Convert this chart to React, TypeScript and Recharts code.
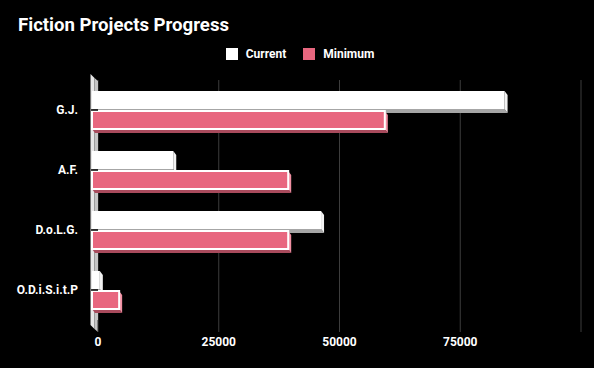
import {
  Bar,
  BarChart,
  CartesianGrid,
  Legend,
  ReferenceArea,
  XAxis,
  YAxis,
} from "recharts";

const categories = ["G.J.", "A.F.", "D.o.L.G.", "O.D.i.S.i.t.P"];
const currentValues = [84800, 16200, 46800, 1000];
const minimumValues = [60000, 40000, 40000, 5000];
const xTicks = [0, 25000, 50000, 75000, 100000];

const data = categories.map((name, i) => ({
  name,
  current: currentValues[i],
  minimum: minimumValues[i],
}));

const FONT = "Roboto, 'Noto Sans', sans-serif";

type Faces = { front: string; side: string; bottom: string; border?: string };

const WHITE: Faces = { front: "#ffffff", side: "#f2f2f2", bottom: "#a6a6a6" };
const PINK: Faces = {
  front: "#e8677f",
  side: "#f08fa2",
  bottom: "#a84a5c",
  border: "#ffffff",
};

// front face sits a bit up-left of the real bar end, depth goes right/down
const Bar3D = (props: any) => {
  const { x, y, width, height, faces } = props as {
    x: number;
    y: number;
    width: number;
    height: number;
    faces: Faces;
  };
  if (width == null || height == null) return null;
  const dx = 3;
  const dy = 4;
  const fl = x - 6;
  const fr = Math.max(x + width - dx, fl + 2);
  const top = y;
  const bot = y + height;
  return (
    <g>
      <polygon
        points={`${fl},${bot} ${fr},${bot} ${fr + dx},${bot + dy} ${fl + dx},${bot + dy}`}
        fill={faces.bottom}
      />
      <polygon
        points={`${fr},${top} ${fr + dx},${top + dy} ${fr + dx},${bot + dy} ${fr},${bot}`}
        fill={faces.side}
      />
      <rect
        x={fl}
        y={top}
        width={fr - fl}
        height={height}
        fill={faces.front}
        stroke={faces.border ?? "none"}
        strokeWidth={faces.border ? 2 : 0}
      />
    </g>
  );
};

// the grey "wall" behind the category axis
const Wall = (props: any) => {
  const { x, y, height } = props;
  const L = x - 7.5;
  const M = x - 3.5;
  const R = x;
  const top = y;
  const bot = y + height;
  return (
    <g>
      <polygon
        points={`${L},${top - 6} ${M},${top - 2} ${M},${bot + 9} ${L},${bot + 5}`}
        fill="#e6e6e6"
      />
      <polygon
        points={`${M},${top - 2} ${R},${top + 1} ${R},${bot + 12} ${M},${bot + 9}`}
        fill="#c4c4c4"
      />
    </g>
  );
};

const LegendContent = () => (
  <div
    style={{
      width: 594,
      height: 36,
      display: "flex",
      justifyContent: "center",
      alignItems: "flex-start",
      paddingTop: 4,
      paddingLeft: 6,
      boxSizing: "border-box",
      fontFamily: FONT,
      fontSize: 12,
      fontWeight: 700,
      color: "#ffffff",
    }}
  >
    {[
      { label: "Current", color: WHITE.front },
      { label: "Minimum", color: PINK.front },
    ].map((item, i) => (
      <div
        key={item.label}
        style={{
          display: "flex",
          alignItems: "center",
          marginLeft: i ? 17 : 0,
          lineHeight: "12px",
        }}
      >
        <span
          style={{
            width: 12,
            height: 12,
            background: item.color,
            marginRight: 8,
            display: "inline-block",
          }}
        />
        {item.label}
      </div>
    ))}
  </div>
);

const App = () => (
  <div
    style={{
      position: "absolute",
      left: 0,
      top: 0,
      width: 594,
      height: 368,
      background: "#000000",
      overflow: "hidden",
    }}
  >
    <div
      style={{
        position: "absolute",
        left: 18,
        top: 14,
        fontFamily: FONT,
        fontSize: 18.6,
        fontWeight: 700,
        lineHeight: "22px",
        color: "#ffffff",
      }}
    >
      Fiction Projects Progress
    </div>
    <BarChart
      width={594}
      height={368}
      data={data}
      layout="vertical"
      margin={{ top: 44, right: 13, bottom: 18, left: 0 }}
      barSize={18}
      barGap={2}
    >
      <CartesianGrid horizontal={false} stroke="#3d3d3d" />
      <ReferenceArea
        x1={0}
        x2={1000}
        ifOverflow="visible"
        shape={(p: any) => <Wall {...p} />}
      />
      <XAxis
        type="number"
        domain={[0, 100000]}
        ticks={xTicks}
        tickFormatter={(v: number) => (v === 100000 ? "" : String(v))}
        axisLine={false}
        tickLine={{ stroke: "#3d3d3d" }}
        tickSize={12}
        tickMargin={5}
        tick={{ fill: "#ffffff", fontSize: 12, fontWeight: 700, fontFamily: FONT }}
      />
      <YAxis
        type="category"
        dataKey="name"
        width={98}
        axisLine={false}
        tickLine={{ stroke: "#000000", strokeWidth: 1.5 }}
        tickSize={7}
        tickMargin={13}
        tick={{ fill: "#ffffff", fontSize: 12, fontWeight: 700, fontFamily: FONT }}
      />
      <Legend
        verticalAlign="top"
        wrapperStyle={{ left: 0, width: 594 }}
        content={() => <LegendContent />}
      />
      <Bar
        dataKey="current"
        name="Current"
        fill={WHITE.front}
        isAnimationActive={false}
        shape={(p: any) => <Bar3D {...p} faces={WHITE} />}
      />
      <Bar
        dataKey="minimum"
        name="Minimum"
        fill={PINK.front}
        isAnimationActive={false}
        shape={(p: any) => <Bar3D {...p} faces={PINK} />}
      />
    </BarChart>
  </div>
);

export default App;
